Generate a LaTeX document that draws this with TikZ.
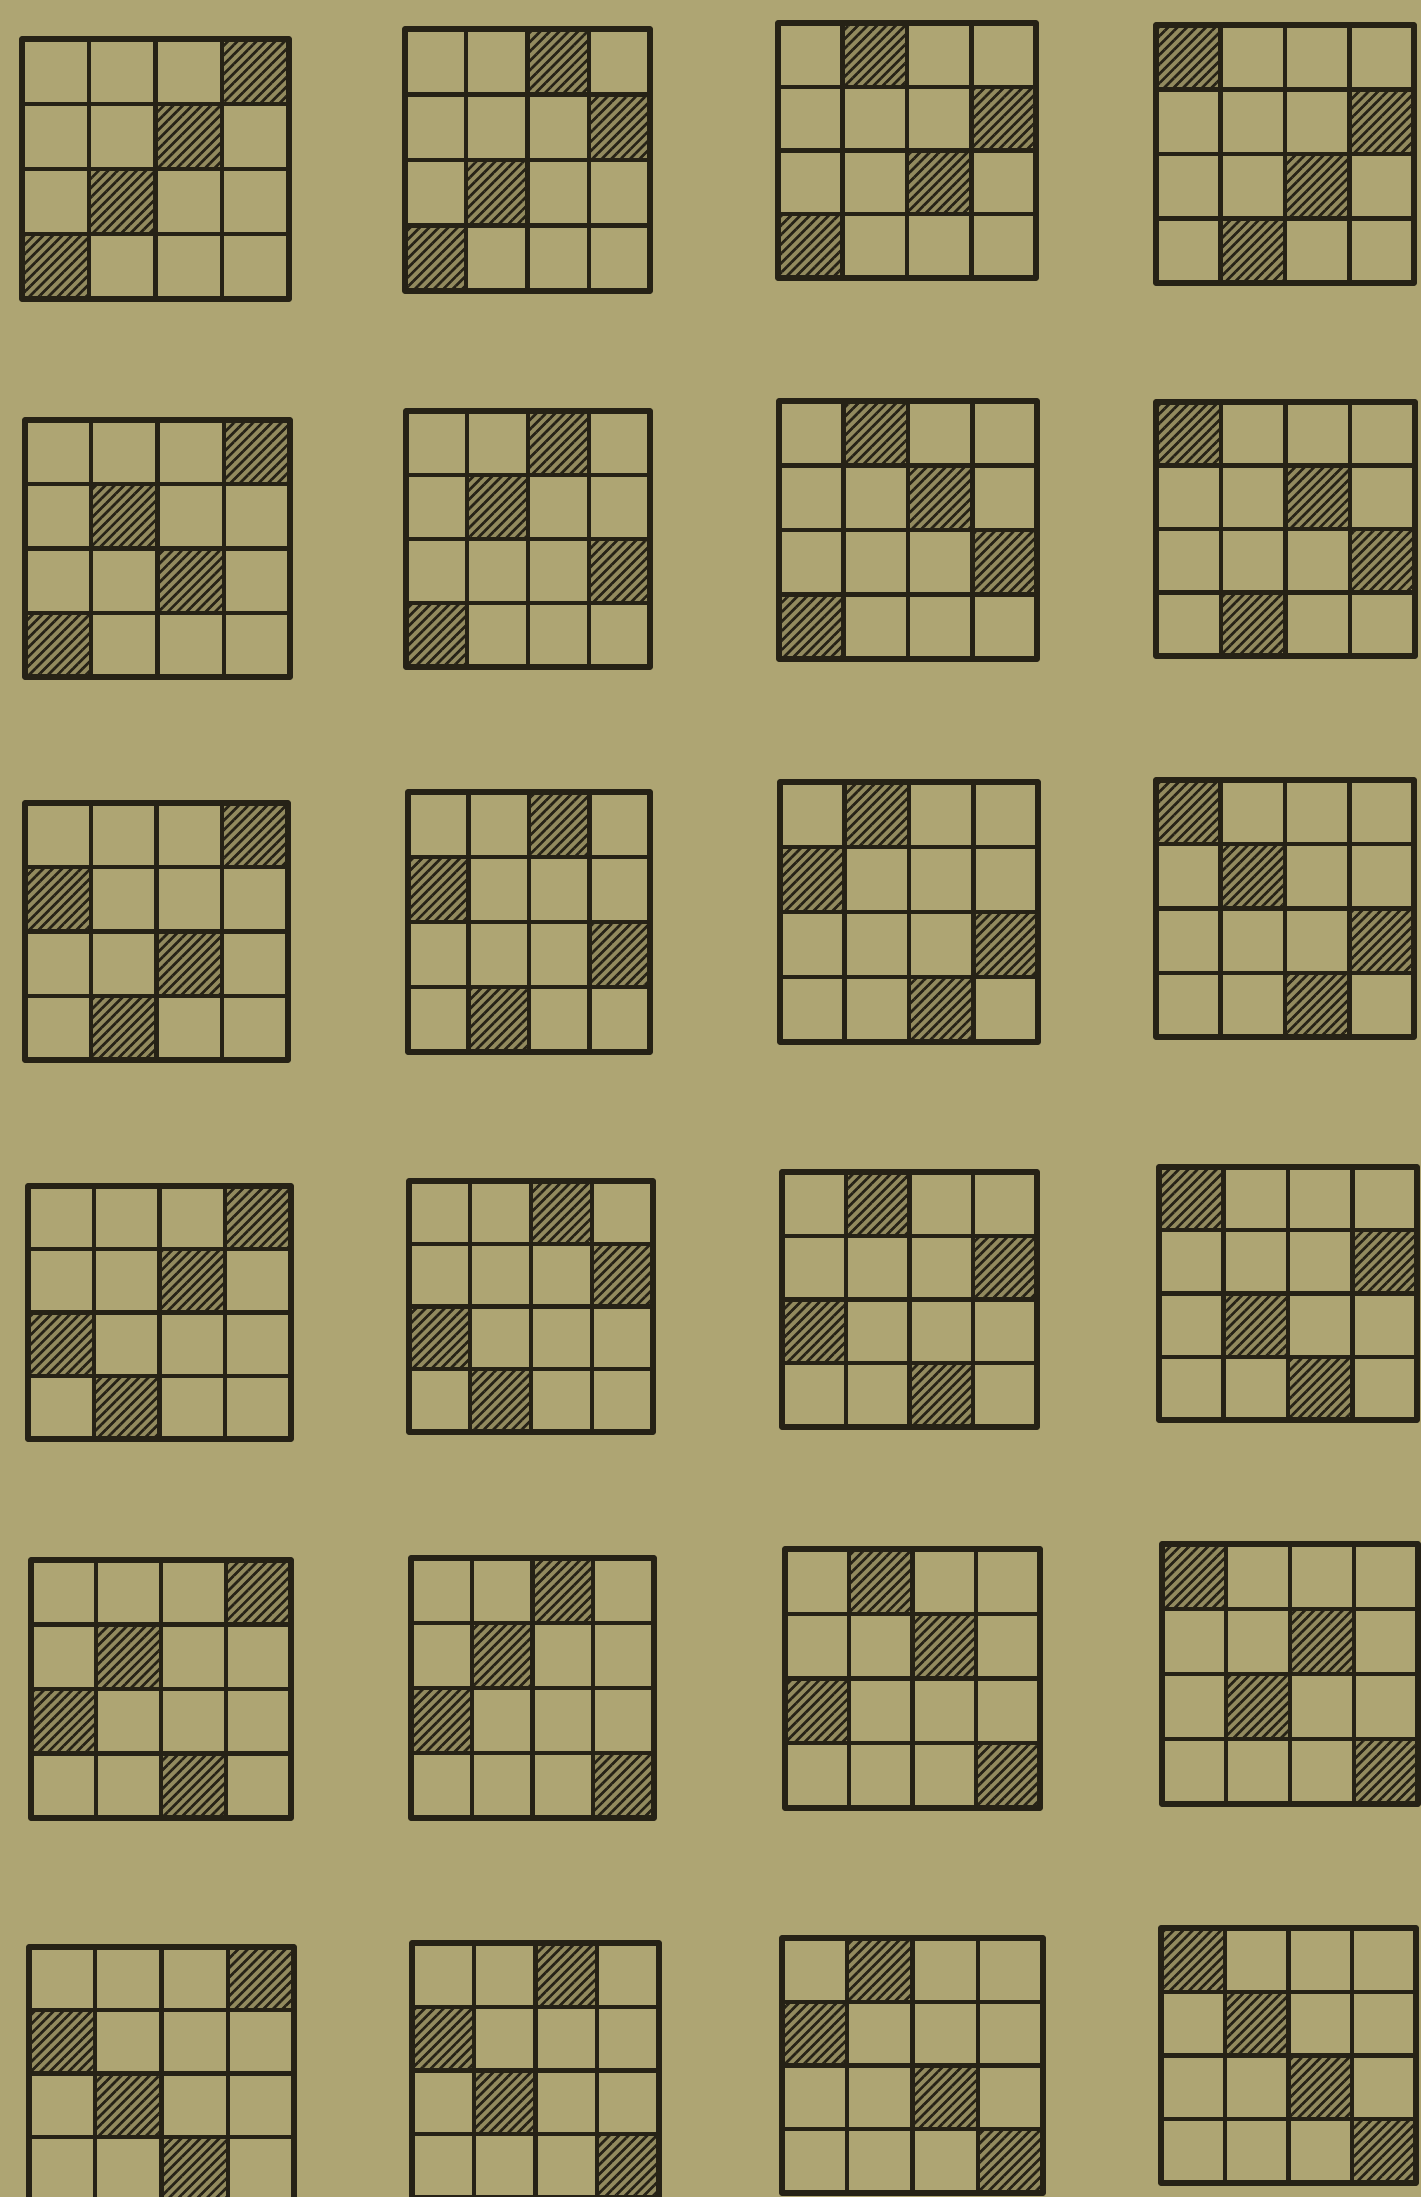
\documentclass[tikz,border=0pt]{standalone}
\usetikzlibrary{patterns.meta}

\definecolor{paper}{RGB}{174,165,115}
\definecolor{ink}{RGB}{38,34,22}
\definecolor{hatchbg}{RGB}{146,138,94}

% one 4x4 board: left, top, right, bottom (px), shaded column of each row
\newcommand{\permgrid}[5]{%
  \begin{scope}[shift={(#1,#2)}, xscale={(#3-#1)/4}, yscale={(#4-#2)/4}]
    \foreach \c [count=\r from 0] in {#5}
      \path[hatchcell] (\c,\r) rectangle ++(1,1);
    \foreach \i in {1,2,3} {
      \draw[gridline] (\i,0) -- (\i,4);
      \draw[gridline] (0,\i) -- (4,\i);
    }
    \draw[gridborder] (0,0) rectangle (4,4);
  \end{scope}%
}

\begin{document}
\begin{tikzpicture}[x=0.01cm, y=-0.01cm,
    gridline/.style={ink, line width=1.25pt},
    gridborder/.style={ink, line width=1.7pt, line join=round},
    hatchcell/.style={fill=hatchbg,
      postaction={pattern={Lines[angle=45, distance=1.9pt, line width=0.75pt]}, pattern color=ink}}]
    \useasboundingbox (0,0) rectangle (1421,2197);
    \fill[paper] (0,0) rectangle (1421,2197);
    \clip (0,0) rectangle (1421,2197);

    % row 1
    \permgrid{22}{39}{289}{299}{3,2,1,0}
    \permgrid{405}{29}{650}{291}{2,3,1,0}
    \permgrid{778}{23}{1036}{278}{1,3,2,0}
    \permgrid{1156}{25}{1414}{283}{0,3,2,1}

    % row 2
    \permgrid{25}{420}{290}{677}{3,1,2,0}
    \permgrid{406}{411}{650}{667}{2,1,3,0}
    \permgrid{779}{401}{1037}{659}{1,2,3,0}
    \permgrid{1156}{402}{1415}{656}{0,2,3,1}

    % row 3
    \permgrid{25}{803}{288}{1060}{3,0,2,1}
    \permgrid{408}{792}{650}{1052}{2,0,3,1}
    \permgrid{780}{782}{1038}{1042}{1,0,3,2}
    \permgrid{1156}{780}{1414}{1037}{0,1,3,2}

    % row 4
    \permgrid{28}{1186}{291}{1439}{3,2,0,1}
    \permgrid{409}{1181}{653}{1432}{2,3,0,1}
    \permgrid{782}{1172}{1037}{1427}{1,3,0,2}
    \permgrid{1159}{1167}{1417}{1420}{0,3,1,2}

    % row 5
    \permgrid{31}{1560}{291}{1818}{3,1,0,2}
    \permgrid{411}{1558}{654}{1818}{2,1,0,3}
    \permgrid{785}{1549}{1040}{1808}{1,2,0,3}
    \permgrid{1162}{1544}{1418}{1804}{0,2,1,3}

    % row 6
    \permgrid{29}{1947}{294}{2200}{3,0,1,2}
    \permgrid{412}{1943}{659}{2198}{2,0,1,3}
    \permgrid{782}{1938}{1043}{2193}{1,0,2,3}
    \permgrid{1161}{1928}{1416}{2183}{0,1,2,3}
\end{tikzpicture}
\end{document}
